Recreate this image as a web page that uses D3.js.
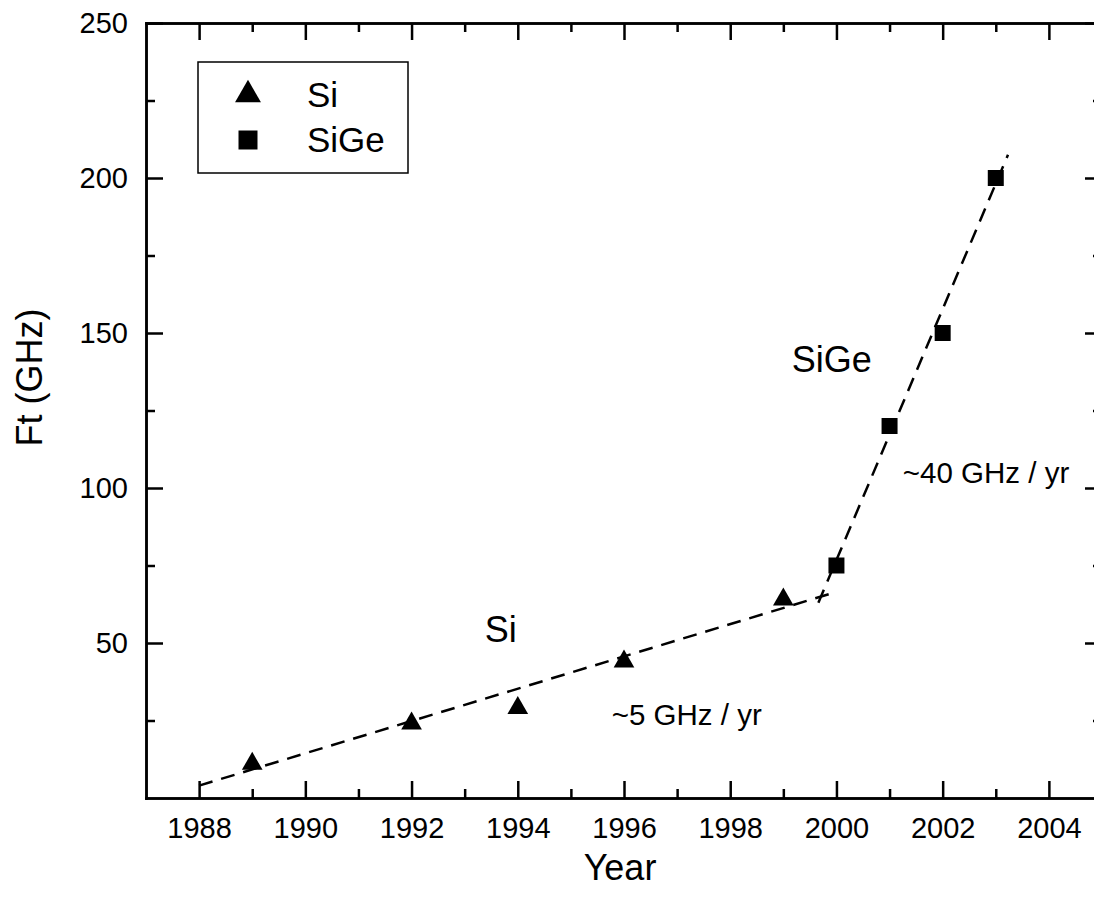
<!DOCTYPE html>
<html>
<head>
<meta charset="utf-8">
<script src="https://cdn.jsdelivr.net/npm/d3@7"></script>
<style>
    body { margin: 0; background: #fff; }
    svg { display: block; font-family: Arial, "Liberation Sans", sans-serif; }
    .axis path, .axis line { stroke: #000; stroke-width: 2.5; }
    .axis text { font-size: 29px; fill: #000; }
</style>
</head>
<body>
<div id="chart"></div>
<script>
// Si and SiGe cutoff frequency data
const siYears = [1989, 1992, 1994, 1996, 1999];
const siFt = [12, 25, 30, 45, 65];
const sigeYears = [2000, 2001, 2002, 2003];
const sigeFt = [75, 120, 150, 200];

// dashed trend line end points
const siFitYears = [1988, 2000];
const siFitFt = [4, 66.5];
const sigeFitYears = [1999.66, 2003.23];
const sigeFitFt = [63, 207.5];

const xMajor = [1988, 1990, 1992, 1994, 1996, 1998, 2000, 2002, 2004];
const xMinor = [1989, 1991, 1993, 1995, 1997, 1999, 2001, 2003];
const yMajor = [50, 100, 150, 200, 250];
const yMinor = [25, 75, 125, 175, 225];

const width = 1094, height = 904;
const margin = { top: 23, right: -8, bottom: 106, left: 146 };

let svg = d3.select("#chart").append("svg")
    .attr("width", width)
    .attr("height", height);

let x = d3.scaleLinear().domain([1987, 2005]).range([margin.left, width - margin.right]);
let y = d3.scaleLinear().domain([0, 250]).range([height - margin.bottom, margin.top]);

const yBottom = y(0), yTop = y(250), xLeft = x(1987), xRight = x(2005);

// axes: major ticks point inwards, minor ticks shorter
function addAxis(axis, tx, ty) {
    svg.append("g")
        .attr("class", "axis")
        .attr("transform", `translate(${tx},${ty})`)
        .call(axis);
}

addAxis(d3.axisBottom(x).tickValues(xMajor).tickFormat(d3.format("d"))
    .tickSizeInner(-17).tickSizeOuter(0).tickPadding(19), 0, yBottom);
addAxis(d3.axisBottom(x).tickValues(xMinor).tickFormat("")
    .tickSizeInner(-9).tickSizeOuter(0), 0, yBottom);
addAxis(d3.axisTop(x).tickValues(xMajor).tickFormat("")
    .tickSizeInner(-17).tickSizeOuter(0), 0, yTop);
addAxis(d3.axisTop(x).tickValues(xMinor).tickFormat("")
    .tickSizeInner(-9).tickSizeOuter(0), 0, yTop);

addAxis(d3.axisLeft(y).tickValues(yMajor).tickFormat(d3.format("d"))
    .tickSizeInner(-17).tickSizeOuter(0).tickPadding(18), xLeft, 0);
addAxis(d3.axisLeft(y).tickValues(yMinor).tickFormat("")
    .tickSizeInner(-9).tickSizeOuter(0), xLeft, 0);
addAxis(d3.axisRight(y).tickValues(yMajor).tickFormat("")
    .tickSizeInner(-17).tickSizeOuter(0), xRight, 0);
addAxis(d3.axisRight(y).tickValues(yMinor).tickFormat("")
    .tickSizeInner(-9).tickSizeOuter(0), xRight, 0);

svg.selectAll(".axis .domain").attr("stroke-linecap", "square");

// axis titles
svg.append("text")
    .attr("x", (x(1987) + x(2005)) / 2 - 4)
    .attr("y", 880)
    .attr("text-anchor", "middle")
    .style("font-size", "36px")
    .text("Year");

svg.append("text")
    .attr("transform", `translate(42, ${(yTop + yBottom) / 2 - 33}) rotate(-90)`)
    .attr("text-anchor", "middle")
    .style("font-size", "36px")
    .text("Ft (GHz)");

// dashed trend lines
let line = d3.line().x(d => x(d[0])).y(d => y(d[1]));
[[siFitYears, siFitFt], [sigeFitYears, sigeFitFt]].forEach(([xs, ys]) => {
    svg.append("path")
        .attr("d", line(d3.zip(xs, ys)))
        .attr("fill", "none")
        .attr("stroke", "#000")
        .attr("stroke-width", 2.5)
        .attr("stroke-dasharray", "14,9");
});

// markers (triangle shifted so its box is centred on the point)
const triShift = s => Math.sqrt(s / (Math.sqrt(3) * 3)) / 2;
const triSize = 185, sqSize = 256;

svg.selectAll(".si")
    .data(d3.zip(siYears, siFt))
    .join("path")
    .attr("class", "si")
    .attr("d", d3.symbol(d3.symbolTriangle, triSize))
    .attr("transform", d => `translate(${x(d[0])},${y(d[1]) + triShift(triSize)})`)
    .attr("fill", "#000");

svg.selectAll(".sige")
    .data(d3.zip(sigeYears, sigeFt))
    .join("path")
    .attr("class", "sige")
    .attr("d", d3.symbol(d3.symbolSquare, sqSize))
    .attr("transform", d => `translate(${x(d[0])},${y(d[1])})`)
    .attr("fill", "#000");

// annotations
const notes = [
    { text: "Si", yr: 1993.38, v: 50.3, size: 36 },
    { text: "~5 GHz / yr", yr: 1995.77, v: 23.5, size: 29.5 },
    { text: "SiGe", yr: 1999.16, v: 137.4, size: 36 },
    { text: "~40 GHz / yr", yr: 2001.25, v: 101.6, size: 29.5 }
];
svg.selectAll(".note")
    .data(notes)
    .join("text")
    .attr("class", "note")
    .attr("x", d => x(d.yr))
    .attr("y", d => y(d.v))
    .style("font-size", d => d.size + "px")
    .text(d => d.text);

// legend
const legTri = 290, legSq = 361;
let legend = svg.append("g").attr("transform", "translate(198,62)");
legend.append("rect")
    .attr("width", 210)
    .attr("height", 111)
    .attr("fill", "none")
    .attr("stroke", "#000")
    .attr("stroke-width", 1.5);
legend.append("path")
    .attr("d", d3.symbol(d3.symbolTriangle, legTri))
    .attr("transform", `translate(50,${29 + triShift(legTri)})`);
legend.append("path")
    .attr("d", d3.symbol(d3.symbolSquare, legSq))
    .attr("transform", "translate(50,78)");
legend.append("text").attr("x", 109).attr("y", 45).style("font-size", "35px").text("Si");
legend.append("text").attr("x", 109).attr("y", 90).style("font-size", "35px").text("SiGe");
</script>
</body>
</html>
